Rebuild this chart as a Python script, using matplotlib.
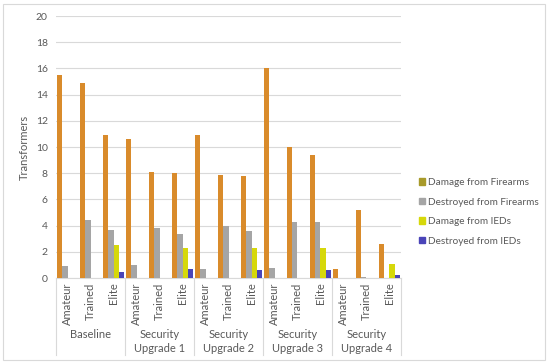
import numpy as np
import matplotlib.pyplot as plt
from matplotlib.patches import Rectangle
from matplotlib.lines import Line2D

plt.rcParams["font.family"] = ["Lato", "DejaVu Sans"]

groups = ["Baseline", "Security\nUpgrade 1", "Security\nUpgrade 2",
          "Security\nUpgrade 3", "Security\nUpgrade 4"]
levels = ["Amateur", "Trained", "Elite"]
series = ["Damage from Firearms", "Destroyed from Firearms",
          "Damage from IEDs", "Destroyed from IEDs"]
colors = ["#d98b2b", "#a5a5a5", "#d6d80a", "#4a44b8"]

dmg_fire = [15.5, 14.9, 10.9, 10.6, 8.1, 8.0, 10.9, 7.85, 7.8, 16.0, 10.0, 9.4, 0.7, 5.2, 2.6]
des_fire = [0.9, 4.4, 3.7, 1.0, 3.8, 3.4, 0.7, 4.0, 3.6, 0.8, 4.3, 4.3, 0.0, 0.1, 0.0]
dmg_ied = [0, 0, 2.5, 0, 0, 2.3, 0, 0, 2.3, 0, 0, 2.3, 0, 0, 1.1]
des_ied = [0, 0, 0.5, 0, 0, 0.7, 0, 0, 0.65, 0, 0, 0.65, 0, 0, 0.2]
values = [dmg_fire, des_fire, dmg_ied, des_ied]

fig = plt.figure(figsize=(5.5, 3.64), dpi=100)
ax = fig.add_axes([0.102, 0.236, 0.627, 0.720])

n = len(dmg_fire)
x = np.arange(n)
w = 0.23
for i, (vals, c) in enumerate(zip(values, colors)):
    ax.bar(x + 0.04 + i * w, vals, w, align="edge", color=c, label=series[i], zorder=3)

ax.set_xlim(0, n)
ax.set_ylim(0, 20)
ax.set_yticks(range(0, 21, 2))
ax.tick_params(axis="y", length=0, labelsize=7.5, labelcolor="#595959", pad=6)
ax.yaxis.grid(True, color="#d9d9d9", linewidth=0.8, zorder=0)
for s in ["top", "right", "left"]:
    ax.spines[s].set_visible(False)
ax.spines["bottom"].set_color("#d9d9d9")
ax.set_xticks(x + 0.5)
ax.set_xticklabels(levels * len(groups), rotation=90, fontsize=8, color="#595959")
ax.tick_params(axis="x", length=0, pad=3)
ax.set_ylabel("Transformers", fontsize=8, color="#595959", labelpad=4)

# group labels and separators
for g, name in enumerate(groups):
    ax.text(g * 3 + 1.5, -0.195, name, transform=ax.get_xaxis_transform(),
            ha="center", va="top", fontsize=8, color="#595959",
            linespacing=1.35)
for b in range(len(groups) + 1):
    ax.add_line(Line2D([b * 3, b * 3], [0, -0.295], transform=ax.get_xaxis_transform(),
                       color="#d9d9d9", linewidth=0.8, clip_on=False))

handles = [Rectangle((0, 0), 1, 1, color=c) for c in ["#a89a2a", colors[1], colors[2], colors[3]]]
leg = fig.legend(handles, series, loc="center left", bbox_to_anchor=(0.745, 0.418),
                 frameon=False, fontsize=7.2, handlelength=0.6, handleheight=0.6,
                 handletextpad=0.3, labelspacing=1.05, labelcolor="#595959")

fig.add_artist(Rectangle((0.006, 0.01), 0.984, 0.98, transform=fig.transFigure,
                         fill=False, edgecolor="#d9d9d9", linewidth=0.8))

fig.savefig("out.png", dpi=100)
